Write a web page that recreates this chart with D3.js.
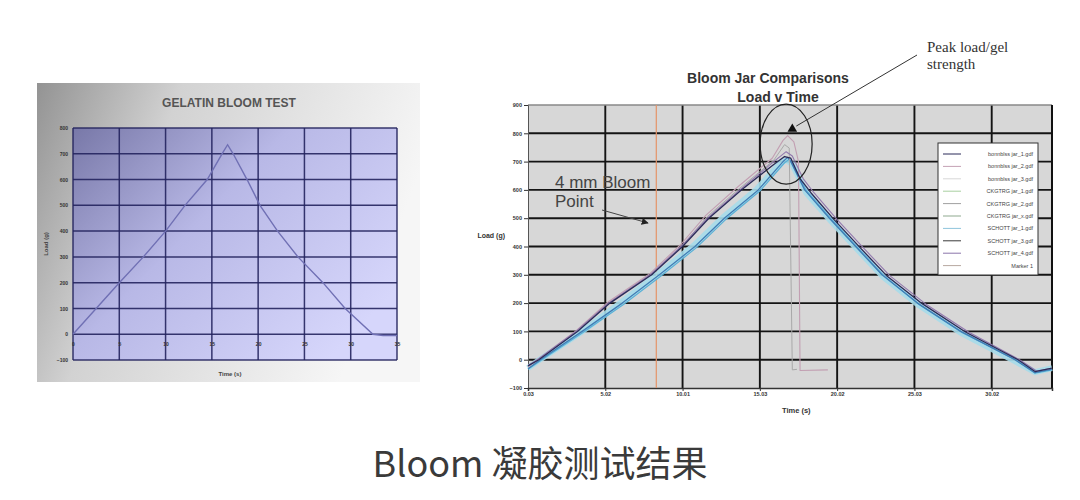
<!DOCTYPE html>
<html><head><meta charset="utf-8">
<script src="https://cdn.jsdelivr.net/npm/d3@7"></script>
<style>body{margin:0;background:#fff;} svg{display:block;}</style>
</head><body>
<svg id="c" width="1080" height="500"></svg>
<script>
// ---------- Left chart: GELATIN BLOOM TEST ----------
const gelTime = [0, 2.5, 5, 7.6, 10, 12.1, 14.5, 16.1, 16.7, 17.3, 18.8, 20.2, 22.1, 24.3, 27.0, 29.4, 32.4, 33.5, 35];
const gelLoad = [0, 100, 200, 300, 400, 500, 600, 700, 735, 700, 600, 500, 400, 300, 200, 100, 0, -5, -5];
const leftYTicks = [-100, 0, 100, 200, 300, 400, 500, 600, 700, 800];
const leftXTicks = [0, 5, 10, 15, 20, 25, 30, 35];

// ---------- Right chart: Bloom Jar Comparisons ----------
const rightYTicks = [-100, 0, 100, 200, 300, 400, 500, 600, 700, 800, 900];
const rightXTicks = [0, 5, 10, 15, 20, 25, 30];
const rightXTickLabels = ["0.03", "5.02", "10.01", "15.03", "20.02", "25.03", "30.02"];
const legendNames = ["bonnblss jar_1.gdf", "bonnblss jar_2.gdf", "bonnblss jar_3.gdf", "CKGTRG jar_1.gdf", "CKGTRG jar_2.gdf", "CKGTRG jar_x.gdf", "SCHOTT jar_1.gdf", "SCHOTT jar_3.gdf", "SCHOTT jar_4.gdf", "Marker 1"];
const legendColors = ["#2a2a58", "#c4a2b4", "#d8d8d8", "#a9cfa0", "#a0a0a0", "#8fa98f", "#8ec4dc", "#3a3a3a", "#8a74aa", "#b8a8a0"];
const bloomMarkerTime = 8.3;

const bonnblssJar1 = [[0,-22],[0.7,0],[3.2,100],[5.3,200],[8.0,300],[10.0,400],[11.7,500],[13.8,600],[15.9,690],[16.6,718],[17.0,712],[17.6,640],[18.3,590],[19.8,495],[21.5,395],[23.2,297],[25.5,198],[28.3,98],[31.7,0],[32.8,-42],[33.9,-30]];
const bonnblssJar2 = [[0,-26],[0.6,0],[3.1,102],[5.2,205],[7.9,305],[9.9,408],[11.5,510],[13.6,612],[15.8,712],[16.5,775],[16.8,792],[17.2,770],[17.5,700],[17.6,-38],[19.4,-36]];
const bonnblssJar3 = [[0,-24],[0.65,0],[3.2,101],[5.3,203],[8.0,302],[10.0,404],[11.6,506],[13.7,606],[15.9,705],[16.6,760],[16.9,748],[17.1,-36],[17.4,-34]];
const ckgtrgJar1 = [[0,-32],[0.8,0],[3.5,100],[6.1,200],[8.5,300],[10.8,400],[12.7,500],[14.9,600],[16.5,700],[16.8,715],[17.0,700],[17.9,600],[19.5,500],[21.2,400],[22.9,300],[25.2,200],[28.0,100],[31.5,0],[32.8,-46],[33.9,-33]];
const ckgtrgJar2 = [[0,-30],[0.8,2],[3.5,100],[6.0,202],[8.4,302],[10.7,402],[12.6,502],[14.8,602],[16.4,700],[16.8,705],[17.1,690],[18.0,590],[19.6,490],[21.3,390],[23.0,292],[25.3,192],[28.1,92],[31.5,-5],[32.8,-44],[33.9,-30]];
const schottJar1 = [[0,-34],[0.9,0],[3.6,98],[6.2,196],[8.6,296],[10.9,396],[12.8,496],[15.0,596],[16.6,696],[16.9,708],[17.1,695],[18.0,598],[19.6,498],[21.3,398],[23.0,298],[25.3,195],[28.1,95],[31.6,-2],[32.8,-48],[33.9,-36]];
const schottJar3 = [[0,-20],[0.6,0],[3.1,100],[5.2,200],[7.9,300],[9.9,400],[11.6,500],[13.7,600],[15.9,700],[16.7,735],[17.1,720],[17.8,640],[18.5,590],[20.0,495],[21.7,395],[23.4,297],[25.7,198],[28.5,98],[31.8,0],[32.9,-40],[33.9,-30]];
const peakMarker = [17.1, 815];
const peakEllipse = [16.7, 762];

const svg = d3.select("#c");
const defs = svg.append("defs");

// ===== LEFT CHART =====
const frameG = defs.append("linearGradient").attr("id","frameG").attr("x1","0").attr("y1","0").attr("x2","1").attr("y2","0.3");
frameG.append("stop").attr("offset","0").attr("stop-color","#939393");
frameG.append("stop").attr("offset","0.35").attr("stop-color","#d2d2d2");
frameG.append("stop").attr("offset","1").attr("stop-color","#f6f6f6");
const plotG = defs.append("linearGradient").attr("id","plotG").attr("x1","0").attr("y1","0").attr("x2","1").attr("y2","0.7");
plotG.append("stop").attr("offset","0").attr("stop-color","#7878a8");
plotG.append("stop").attr("offset","0.45").attr("stop-color","#b8b8e6");
plotG.append("stop").attr("offset","1").attr("stop-color","#d6d6fb");

svg.append("rect").attr("x",37).attr("y",83).attr("width",383).attr("height",299).attr("fill","url(#frameG)");

const lx = d3.scaleLinear().domain([0,35]).range([73,397]);
const ly = d3.scaleLinear().domain([-100,800]).range([360,128]);

svg.append("rect").attr("x",lx(0)).attr("y",ly(800)).attr("width",lx(35)-lx(0)).attr("height",ly(-100)-ly(800)).attr("fill","url(#plotG)");

const lgrid = svg.append("g").attr("stroke","#24245e").attr("stroke-width",1.5).attr("stroke-opacity",0.9);
lgrid.selectAll("line.h").data(leftYTicks).join("line").attr("x1",lx(0)).attr("x2",lx(35)).attr("y1",d=>ly(d)).attr("y2",d=>ly(d));
lgrid.selectAll("line.v").data(leftXTicks).join("line").attr("x1",d=>lx(d)).attr("x2",d=>lx(d)).attr("y1",ly(800)).attr("y2",ly(-100));

svg.append("g").attr("transform",`translate(${lx(0)-2},0)`)
  .call(d3.axisLeft(ly).tickValues(leftYTicks).tickSize(0).tickPadding(3))
  .call(g=>{g.select(".domain").remove(); g.selectAll("text").attr("font-size",5).attr("font-family","Liberation Sans, Arial").attr("fill","#333").attr("font-weight","bold");});
svg.append("g").attr("transform",`translate(0,${ly(0)})`)
  .call(d3.axisBottom(lx).tickValues(leftXTicks).tickSize(0).tickPadding(8))
  .call(g=>{g.select(".domain").remove(); g.selectAll("text").attr("font-size",5).attr("font-family","Liberation Sans, Arial").attr("fill","#333").attr("font-weight","bold");});

const gelLine = d3.line().x((d,i)=>lx(gelTime[i])).y(d=>ly(d));
svg.append("path").attr("d",gelLine(gelLoad)).attr("fill","none").attr("stroke","#7070b4").attr("stroke-width",1.4);

svg.append("text").attr("x",229).attr("y",107).attr("text-anchor","middle").attr("font-family","Liberation Sans, Arial").attr("font-weight","bold").attr("font-size",12).attr("fill","#555").text("GELATIN BLOOM TEST");
svg.append("text").attr("x",230).attr("y",376).attr("text-anchor","middle").attr("font-family","Liberation Sans, Arial").attr("font-weight","bold").attr("font-size",6).attr("fill","#444").text("Time (s)");
svg.append("text").attr("transform","translate(48,244) rotate(-90)").attr("text-anchor","middle").attr("font-family","Liberation Sans, Arial").attr("font-weight","bold").attr("font-size",6).attr("fill","#444").text("Load (g)");

// ===== RIGHT CHART =====
const rx = d3.scaleLinear().domain([0,33.9]).range([528,1052]);
const ry = d3.scaleLinear().domain([-100,900]).range([388,105]);

svg.append("rect").attr("x",rx(0)).attr("y",ry(900)).attr("width",rx(33.9)-rx(0)).attr("height",ry(-100)-ry(900)).attr("fill","#d7d7d7");

const rgrid = svg.append("g").attr("stroke","#141414").attr("stroke-width",1.9);
rgrid.selectAll("line.h").data(rightYTicks.filter(d=>d>-100 && d<900)).join("line").attr("x1",rx(0)).attr("x2",rx(33.9)).attr("y1",d=>ry(d)).attr("y2",d=>ry(d));
rgrid.selectAll("line.v").data(rightXTicks.filter(d=>d>0)).join("line").attr("x1",d=>rx(d)).attr("x2",d=>rx(d)).attr("y1",ry(900)).attr("y2",ry(-100));
svg.append("line").attr("x1",rx(0)).attr("x2",rx(33.9)).attr("y1",ry(900)).attr("y2",ry(900)).attr("stroke","#888").attr("stroke-width",1.5);
svg.append("line").attr("x1",rx(33.9)).attr("x2",rx(33.9)).attr("y1",ry(900)).attr("y2",ry(-100)).attr("stroke","#111").attr("stroke-width",2);

svg.append("g").attr("transform",`translate(${rx(0)},0)`)
  .call(d3.axisLeft(ry).tickValues(rightYTicks).tickSize(4).tickPadding(2))
  .call(g=>{g.select(".domain").attr("stroke","#555"); g.selectAll("line").attr("stroke","#333"); g.selectAll("text").attr("font-size",5.5).attr("font-family","Liberation Sans, Arial").attr("fill","#333").attr("font-weight","bold");});
svg.append("g").attr("transform",`translate(0,${ry(-100)})`)
  .call(d3.axisBottom(rx).tickValues(rightXTicks).tickSize(3).tickPadding(1).tickFormat((d,i)=>rightXTickLabels[i]))
  .call(g=>{g.select(".domain").attr("stroke","#333").attr("stroke-width",1.5); g.selectAll("line").attr("stroke","#333"); g.selectAll("text").attr("font-size",5.5).attr("font-family","Liberation Sans, Arial").attr("fill","#333").attr("font-weight","bold");});

// bloom marker
svg.append("line").attr("x1",rx(bloomMarkerTime)).attr("x2",rx(bloomMarkerTime)).attr("y1",ry(900)).attr("y2",ry(-100)).attr("stroke","#e59468").attr("stroke-width",1.2);

const rline = d3.line().x(d=>rx(d[0])).y(d=>ry(d[1]));
const drawSeries = (data, color, w, op) => svg.append("path").attr("d",rline(data)).attr("fill","none").attr("stroke",color).attr("stroke-width",w).attr("stroke-opacity",op||1).attr("stroke-linejoin","round");
drawSeries(ckgtrgJar2, "#a6dbea", 6, 0.9);
drawSeries(schottJar1, "#5ab0d6", 1.2);
drawSeries(ckgtrgJar1, "#3f7db6", 1.3);
drawSeries(bonnblssJar3, "#a9a9a9", 1);
drawSeries(bonnblssJar2, "#c29fb2", 1.1);
drawSeries(schottJar3, "#9279ae", 1.1);
drawSeries(bonnblssJar1, "#2a2a58", 1.3);

// legend
const lgX = 938, lgY = 143;
svg.append("rect").attr("x",lgX).attr("y",lgY).attr("width",100).attr("height",132).attr("fill","#fff").attr("stroke","#333").attr("stroke-width",1);
const lgItems = svg.append("g").selectAll("g").data(legendNames).join("g").attr("transform",(d,i)=>`translate(${lgX},${lgY+11+i*12.4})`);
lgItems.append("line").attr("x1",5).attr("x2",23).attr("y1",0).attr("y2",0).attr("stroke",(d,i)=>legendColors[i]).attr("stroke-width",1);
lgItems.append("text").attr("x",95).attr("y",2).attr("text-anchor","end").attr("font-size",5.5).attr("font-family","Liberation Sans, Arial").attr("fill","#444").text(d=>d);

// ellipse & peak annotation
svg.append("ellipse").attr("cx",rx(peakEllipse[0])).attr("cy",ry(peakEllipse[1])).attr("rx",26).attr("ry",40).attr("fill","none").attr("stroke","#222").attr("stroke-width",1.2);
defs.append("marker").attr("id","arr").attr("viewBox","0 0 10 10").attr("refX",9).attr("refY",5).attr("markerWidth",7).attr("markerHeight",7).attr("orient","auto")
  .append("path").attr("d","M0,0 L10,5 L0,10 z").attr("fill","#222");
const pkX = rx(peakMarker[0]), pkY = ry(peakMarker[1]);
svg.append("line").attr("x1",917).attr("y1",55).attr("x2",pkX+4).attr("y2",pkY-3).attr("stroke","#333").attr("stroke-width",1);
svg.append("path").attr("d",d3.symbol(d3.symbolTriangle,40)()).attr("transform",`translate(${pkX},${pkY})`).attr("fill","#111");

svg.append("text").attr("x",768).attr("y",83).attr("text-anchor","middle").attr("font-family","Liberation Sans, Arial").attr("font-weight","bold").attr("font-size",14).attr("fill","#333").text("Bloom Jar Comparisons");
svg.append("text").attr("x",778).attr("y",102).attr("text-anchor","middle").attr("font-family","Liberation Sans, Arial").attr("font-weight","bold").attr("font-size",14).attr("fill","#333").text("Load v Time");
svg.append("text").attr("x",927).attr("y",52).attr("font-family","Liberation Serif, serif").attr("font-size",15).attr("fill","#333").text("Peak load/gel");
svg.append("text").attr("x",927).attr("y",69).attr("font-family","Liberation Serif, serif").attr("font-size",15).attr("fill","#333").text("strength");

svg.append("text").attr("x",555).attr("y",188).attr("font-family","Liberation Sans, Arial").attr("font-size",17).attr("fill","#444").text("4 mm Bloom");
svg.append("text").attr("x",555).attr("y",207).attr("font-family","Liberation Sans, Arial").attr("font-size",17).attr("fill","#444").text("Point");
svg.append("line").attr("x1",602).attr("y1",210).attr("x2",648).attr("y2",223).attr("stroke","#444").attr("stroke-width",1).attr("marker-end","url(#arr)");

svg.append("text").attr("x",505).attr("y",238).attr("text-anchor","end").attr("font-family","Liberation Sans, Arial").attr("font-weight","bold").attr("font-size",7).attr("fill","#333").text("Load (g)");
svg.append("text").attr("x",782).attr("y",413).attr("font-family","Liberation Sans, Arial").attr("font-weight","bold").attr("font-size",7.5).attr("fill","#333").text("Time (s)");

// caption
svg.append("text").attr("x",540).attr("y",477).attr("text-anchor","middle").attr("font-family","Noto Sans CJK SC, Noto Sans").attr("font-size",36).attr("fill","#3a3a3a").text("Bloom 凝胶测试结果");
</script>
</body></html>
